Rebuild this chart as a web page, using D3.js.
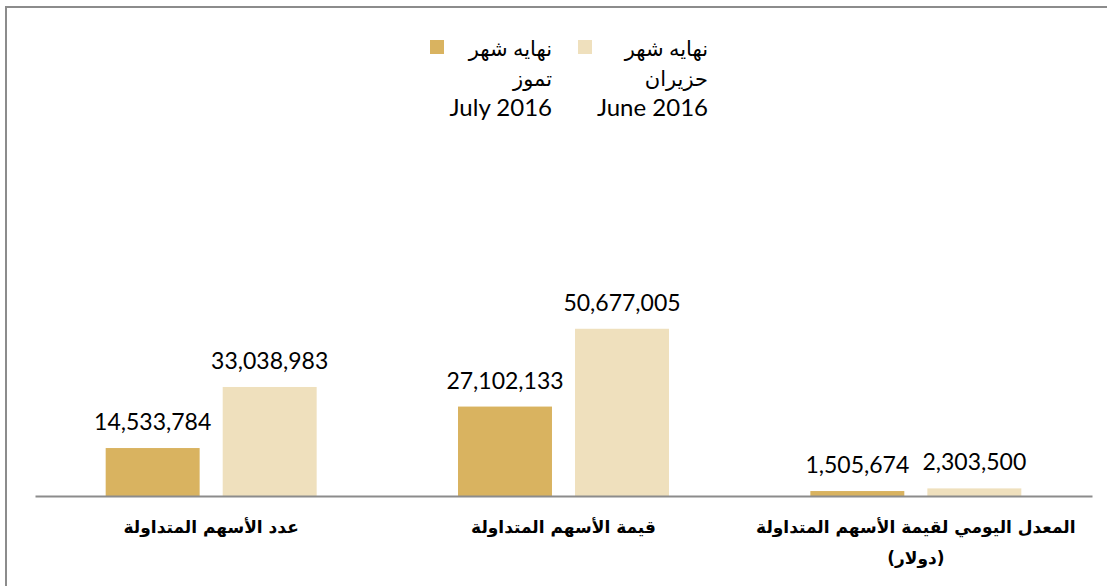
<!DOCTYPE html>
<html>
<head>
<meta charset="utf-8">
<script src="https://cdn.jsdelivr.net/npm/d3@7/dist/d3.min.js"></script>
<style>
  body { margin: 0; background: #fff; }
  svg { display: block; }
  .value { font-family: Lato, "Open Sans", sans-serif; font-size: 23px; fill: #000; }
  .cat { font-family: "DejaVu Sans", sans-serif; font-weight: bold; font-size: 17px; fill: #000; }
  .legend { font-family: Lato, "DejaVu Sans", sans-serif; font-size: 21px; fill: #000; }
  .legend .latin { font-size: 24px; }
</style>
</head>
<body>
<svg width="1107" height="586"></svg>
<script>
// categories (left to right as in the picture)
var categories = ["shares", "value", "daily"];
var categoryLines = [
	["عدد الأسهم المتداولة"],
	["قيمة الأسهم المتداولة"],
	["المعدل اليومي لقيمة الأسهم المتداولة", "(دولار)"]
];

// series
var seriesKeys = ["july", "june"];
var julyValues = [14533784, 27102133, 1505674];
var juneValues = [33038983, 50677005, 2303500];
var seriesColors = ["#d9b360", "#efe0bd"];
var legendLines = [
	["نهايه شهر", "تموز", "July 2016"],
	["نهايه شهر", "حزيران", "June 2016"]
];

var svg = d3.select("svg"),
	width = +svg.attr("width"),
	height = +svg.attr("height");

// outer frame
svg.append("rect")
	.attr("x", 6)
	.attr("y", 7)
	.attr("width", width + 10)
	.attr("height", height + 10)
	.attr("fill", "none")
	.attr("stroke", "#8c8c8c")
	.attr("stroke-width", 2);

var x = d3.scaleBand()
	.domain(categories)
	.range([35, 1092]);

var xInner = d3.scaleBand()
	.domain(seriesKeys)
	.range([0, x.bandwidth()])
	.paddingInner(0.197)
	.paddingOuter(0.604);

var y = d3.scaleLinear()
	.domain([0, 60000000])
	.range([496, 298]);

var data = categories.map(function(c, i) {
	return { cat: c, values: [
		{ key: "july", value: julyValues[i], color: seriesColors[0] },
		{ key: "june", value: juneValues[i], color: seriesColors[1] }
	]};
});

var groups = svg.append("g")
	.attr("class", "bars")
	.selectAll("g")
	.data(data)
	.enter().append("g")
		.attr("transform", function(d) { return "translate(" + x(d.cat) + ",0)"; });

groups.selectAll("rect")
	.data(function(d) { return d.values; })
	.enter().append("rect")
		.attr("x", function(d) { return xInner(d.key); })
		.attr("y", function(d) { return y(d.value); })
		.attr("width", xInner.bandwidth())
		.attr("height", function(d) { return y(0) - y(d.value); })
		.attr("fill", function(d) { return d.color; });

groups.selectAll("text")
	.data(function(d) { return d.values; })
	.enter().append("text")
		.attr("class", "value")
		.attr("x", function(d) { return xInner(d.key) + xInner.bandwidth() / 2; })
		.attr("y", function(d) { return y(d.value) - 18; })
		.attr("text-anchor", "middle")
		.text(function(d) { return d3.format(",")(d.value); });

// x axis
var xAxis = svg.append("g")
	.attr("transform", "translate(0," + y(0) + ")")
	.call(d3.axisBottom(x).tickSize(0).tickSizeOuter(0).tickFormat(""));

xAxis.select(".domain")
	.attr("stroke", "#8c8c8c")
	.attr("stroke-width", 2);

xAxis.selectAll(".tick text").remove();
xAxis.selectAll(".tick")
	.append("text")
	.attr("class", "cat")
	.attr("text-anchor", "middle")
	.attr("fill", "#000")
	.each(function(d, i) {
		var t = d3.select(this);
		categoryLines[i].forEach(function(line, j) {
			t.append("tspan")
				.attr("x", 0)
				.attr("y", 37 + j * 31)
				.text(line);
		});
	});

// legend
var legend = svg.append("g").attr("class", "legend");
var legendX = [430, 578];
var legendTextRight = [552, 708];

seriesKeys.forEach(function(k, i) {
	legend.append("rect")
		.attr("x", legendX[i])
		.attr("y", 40)
		.attr("width", 14)
		.attr("height", 14)
		.attr("fill", seriesColors[i]);
	var t = legend.append("text")
		.attr("text-anchor", "end");
	legendLines[i].forEach(function(line, j) {
		t.append("tspan")
			.attr("class", j == 2 ? "latin" : null)
			.attr("x", legendTextRight[i])
			.attr("y", 56 + j * 30)
			.text(line);
	});
});
</script>
</body>
</html>
